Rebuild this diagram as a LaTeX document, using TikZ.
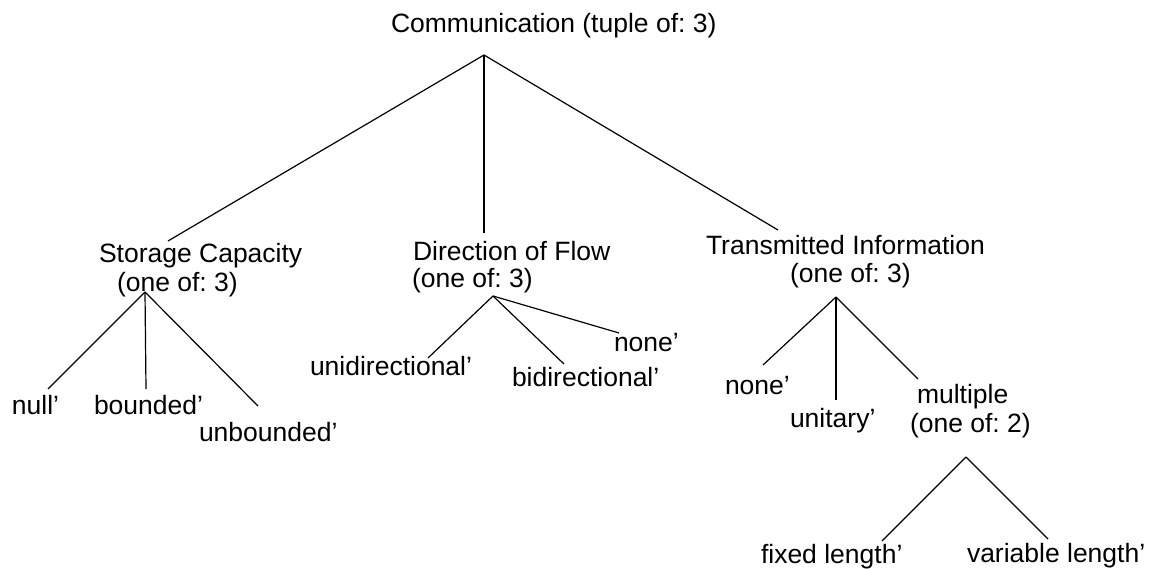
\documentclass[tikz,border=0pt]{standalone}
\usepackage{fontspec}
\setmainfont{Liberation Sans}
\frenchspacing
\tikzset{
  lbl/.style={anchor=base west, inner sep=0pt, outer sep=0pt, font=\fontsize{26.5}{29}\selectfont},
  edge/.style={draw=black, line width=1.2pt}
}
\begin{document}
\begin{tikzpicture}[x=1pt, y=-1pt]
\useasboundingbox (0,0) rectangle (1149,569);

% root
\node[lbl] (root) at (391,33) {Communication (tuple of: 3)};
\coordinate (rootB) at (484,55);

% first level
\node[lbl] (sc)  at (99,263)  {Storage Capacity};
\node[lbl] (sc2) at (117,292) {(one of: 3)};
\coordinate (scT) at (168,241);
\coordinate (scB) at (145,292);

\node[lbl] (df)  at (413,261) {Direction of Flow};
\node[lbl] (df2) at (412,288) {(one of: 3)};
\coordinate (dfT) at (484,233);
\coordinate (dfB) at (493,296);

\node[lbl] (ti)  at (706,255) {Transmitted Information};
\node[lbl] (ti2) at (790,283) {(one of: 3)};
\coordinate (tiT) at (778,230);
\coordinate (tiB) at (836,297);

% storage capacity values
\node[lbl] (null)  at (12,414)  {null’};
\node[lbl] (bnd)   at (94,414)  {bounded’};
\node[lbl] (unbnd) at (199,441) {unbounded’};
\coordinate (nullT)  at (48,389);
\coordinate (bndT)   at (146,389);
\coordinate (unbndT) at (258,406);

% direction of flow values
\node[lbl] (uni)   at (310,376) {unidirectional’};
\node[lbl] (bi)    at (512,387) {bidirectional’};
\node[lbl] (dnone) at (614,352) {none’};
\coordinate (uniT)   at (428,358);
\coordinate (biT)    at (564,364);
\coordinate (dnoneT) at (619,333);

% transmitted information values
\node[lbl] (tnone) at (725,394) {none’};
\node[lbl] (unit)  at (790,427) {unitary’};
\node[lbl] (mult)  at (917,403) {multiple};
\node[lbl] (mult2) at (910,432) {(one of: 2)};
\coordinate (tnoneT) at (763,365);
\coordinate (unitT)  at (836,400);
\coordinate (multT)  at (918,379);
\coordinate (multB)  at (966,457);

\node[lbl] (fixed) at (761,563) {fixed length’};
\node[lbl] (var)   at (967,562) {variable length’};
\coordinate (fixedT) at (882,541);
\coordinate (varT)   at (1048,539);

% edges
\draw[edge] (rootB) -- (scT);
\draw[edge] (rootB) -- (dfT);
\draw[edge] (rootB) -- (tiT);

\draw[edge] (scB) -- (nullT);
\draw[edge] (scB) -- (bndT);
\draw[edge] (scB) -- (unbndT);

\draw[edge] (dfB) -- (uniT);
\draw[edge] (dfB) -- (biT);
\draw[edge] (dfB) -- (dnoneT);

\draw[edge] (tiB) -- (tnoneT);
\draw[edge] (tiB) -- (unitT);
\draw[edge] (tiB) -- (multT);

\draw[edge] (multB) -- (fixedT);
\draw[edge] (multB) -- (varT);
\end{tikzpicture}
\end{document}
